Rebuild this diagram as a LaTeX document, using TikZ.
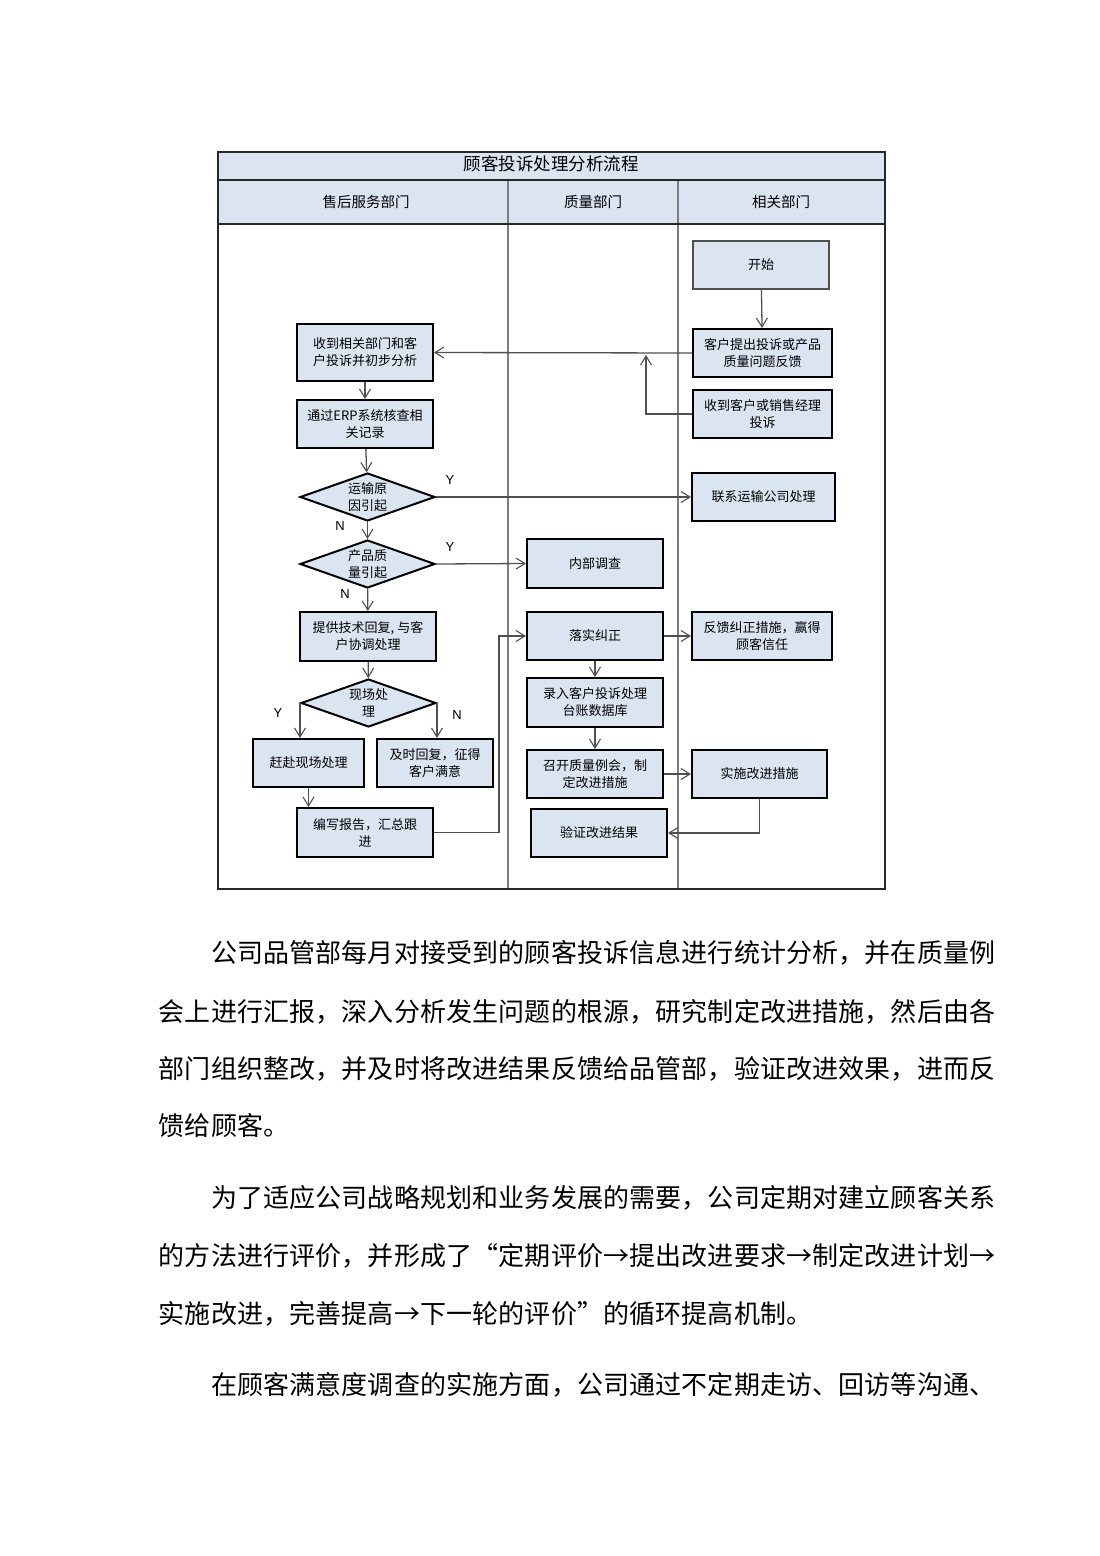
\documentclass[tikz,border=0pt]{standalone}
\usepackage{fontspec}
\setmainfont{Noto Sans CJK SC}
\newfontfamily\latinsans{Liberation Sans}
\usetikzlibrary{arrows.meta,shapes.geometric}
\definecolor{boxfill}{RGB}{219,229,242}
\definecolor{linegray}{RGB}{80,80,80}
\definecolor{colgray}{RGB}{125,125,125}
\definecolor{framegray}{RGB}{40,40,40}
\newlength\cw
\setlength\cw{26.15pt}
\def\spreadchars#1{\ifx#1\relax\else\makebox[\cw]{#1}\expandafter\spreadchars\fi}
\newcommand\Lqt{\makebox[\cw][r]{“}}
\newcommand\Rqt{\makebox[\cw][l]{”}}
\newcommand\bodyfont{\fontsize{26}{30}\selectfont}
\begin{document}
\begin{tikzpicture}[x=1pt,y=-1pt,
  fbox/.style={draw=black, line width=2pt, fill=boxfill, align=center, inner sep=0pt,
    minimum width=136pt, minimum height=48pt, font=\fontsize{13}{17}\selectfont},
  startbox/.style={fbox, draw=linegray, line width=1.2pt},
  dec/.style={diamond, draw=black, line width=2pt, fill=boxfill, align=center, inner sep=0pt,
    minimum width=135pt, minimum height=48pt, aspect=2.8, font=\fontsize{13}{17}\selectfont},
  arr/.style={draw=linegray, line width=1.3pt, -{Straight Barb[length=9pt,width=11pt,line width=1.1pt]}},
  yn/.style={font=\latinsans\fontsize{13}{13}\selectfont, inner sep=0pt},
  hdr/.style={font=\fontsize{14.5}{17}\selectfont, inner sep=0pt},
  body/.style={anchor=west, inner sep=0pt, font=\bodyfont},
]
\fill[white] (0,0) rectangle (1100,1556);
\useasboundingbox (0,0) rectangle (1100,1556);

% frame
\fill[boxfill] (218,152) rectangle (885,224);
\draw[colgray, line width=1.5pt] (508,180) -- (508,889);
\draw[colgray, line width=1.5pt] (678,180) -- (678,889);
\draw[framegray, line width=1.6pt] (218,180) -- (885,180);
\draw[framegray, line width=1.6pt] (218,224) -- (885,224);
\draw[framegray, line width=2pt] (218,152) rectangle (885,889);

\node[hdr, font=\fontsize{17.5}{20}\selectfont] (title) at (551,164) {顾客投诉处理分析流程};
\node[hdr] (h1) at (366,202) {售后服务部门};
\node[hdr] (h2) at (593,202) {质量部门};
\node[hdr] (h3) at (781,202) {相关部门};

% left lane
\node[fbox, minimum height=57pt] (b1) at (365,352.5) {收到相关部门和客\\户投诉并初步分析};
\node[fbox] (b2) at (365,424) {通过ERP系统核查相\\关记录};
\node[dec] (d1) at (367.5,497) {运输原\\因引起};
\node[dec] (d2) at (367.5,564) {产品质\\量引起};
\node[fbox, minimum height=49pt] (b3) at (368,636.5) {提供技术回复, 与客\\户协调处理};
\node[dec] (d3) at (368.5,703) {现场处\\理};
\node[fbox, minimum width=111pt] (b4) at (308.5,763) {赶赴现场处理};
\node[fbox, minimum width=116pt] (b5) at (435,763) {及时回复，征得\\客户满意};
\node[fbox, minimum height=49pt] (b6) at (365,832.5) {编写报告，汇总跟\\进};

% middle lane
\node[fbox, minimum height=49pt] (q1) at (595,563.5) {内部调查};
\node[fbox] (q2) at (595,636) {落实纠正};
\node[fbox, minimum height=49pt] (q3) at (595,702.5) {录入客户投诉处理\\台账数据库};
\node[fbox] (q4) at (595,774) {召开质量例会，制\\定改进措施};
\node[fbox] (q5) at (599,833) {验证改进结果};

% right lane
\node[startbox] (r0) at (761,265) {开始};
\node[fbox, minimum width=139pt] (r1) at (762.5,353) {客户提出投诉或产品\\质量问题反馈};
\node[fbox, minimum width=139pt] (r2) at (762.5,414) {收到客户或销售经理\\投诉};
\node[fbox, minimum width=143pt] (r3) at (763.5,497) {联系运输公司处理};
\node[fbox, minimum width=140pt] (r4) at (762,636) {反馈纠正措施，赢得\\顾客信任};
\node[fbox, minimum width=135pt] (r5) at (759.5,774) {实施改进措施};

% connectors
\coordinate (j1) at (646,355);
\coordinate (kx) at (499,636);
\draw[arr] (r0) -- (r1);
\draw[arr] (r1.west) -- (b1.east);
\draw[arr] (r2.west) -| (j1);
\draw[arr] (b1) -- (b2);
\draw[arr] (b2) -- (d1);
\draw[arr] (d1.east) -- (r3.west);
\draw[arr] (d1) -- (d2);
\draw[arr] (d2.east) -- (q1.west);
\draw[arr] (d2) -- (b3);
\draw[arr] (b3) -- (d3);
\draw[arr] (d3.west) -- (d3.west |- b4.north);
\draw[arr] (d3.east) -- (d3.east |- b5.north);
\draw[arr] (b4.south) -- (b4.south |- b6.north);
\draw[arr] (b6.east) -| (kx) -- (q2.west);
\draw[arr] (q2.east) -- (r4.west);
\draw[arr] (q2) -- (q3);
\draw[arr] (q3) -- (q4);
\draw[arr] (q4.east) -- (r5.west);
\draw[arr] (r5.south) |- (q5.east);

% Y / N labels
\node[yn] (y1) at (450,480) {Y};
\node[yn] (n1) at (340,526) {N};
\node[yn] (y2) at (450,547) {Y};
\node[yn] (n2) at (345,594) {N};
\node[yn] (y3) at (278,713) {Y};
\node[yn] (n3) at (457,715) {N};

% body text
\node[body] (p1a) at (158.5,953) {\spreadchars 　　公司品管部每月对接受到的顾客投诉信息进行统计分析，并在质量例\relax};
\node[body] (p1b) at (158.5,1012) {\spreadchars 会上进行汇报，深入分析发生问题的根源，研究制定改进措施，然后由各\relax};
\node[body] (p1c) at (158.5,1069) {\spreadchars 部门组织整改，并及时将改进结果反馈给品管部，验证改进效果，进而反\relax};
\node[body] (p1d) at (158.5,1126) {\spreadchars 馈给顾客。\relax};
\node[body] (p2a) at (158.5,1198) {\spreadchars 　　为了适应公司战略规划和业务发展的需要，公司定期对建立顾客关系\relax};
\node[body] (p2b) at (158.5,1256) {\spreadchars 的方法进行评价，并形成了\Lqt 定期评价→提出改进要求→制定改进计划→\relax};
\node[body] (p2c) at (158.5,1314) {\spreadchars 实施改进，完善提高→下一轮的评价\Rqt 的循环提高机制。\relax};
\node[body] (p3a) at (158.5,1385) {\spreadchars 　　在顾客满意度调查的实施方面，公司通过不定期走访、回访等沟通、\relax};
\end{tikzpicture}
\end{document}
